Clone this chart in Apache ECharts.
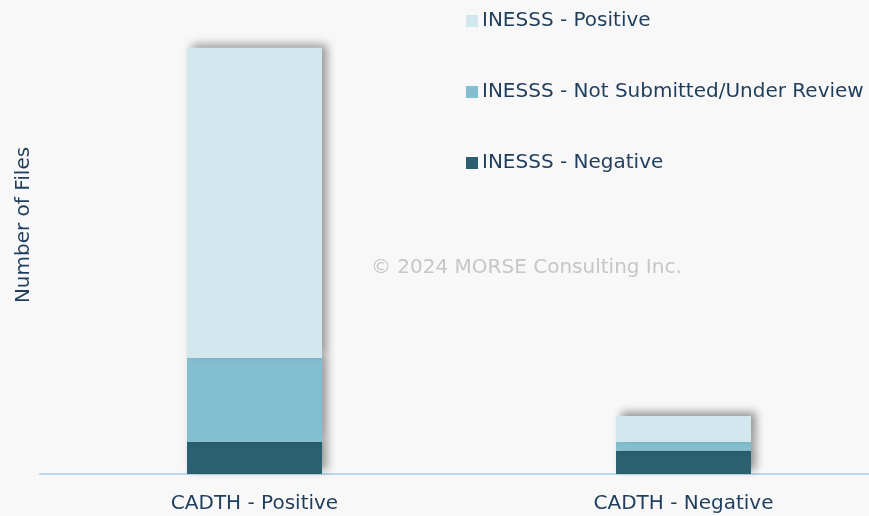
<!DOCTYPE html>
<html>
<head>
<meta charset="utf-8">
<script src="https://cdn.jsdelivr.net/npm/echarts@6/dist/echarts.min.js"></script>
<style>
  html, body { margin: 0; padding: 0; background: #f8f8f8; overflow: hidden; }
  /* plot runs past the right edge of the window, like the original slide */
  #chart { width: 900px; height: 516px; }
</style>
</head>
<body>
<div id="chart"></div>
<script>
// data
var categories = ["CADTH - Positive", "CADTH - Negative"];
var inesssNegative = [11, 8];
var inesssNotSubmitted = [29, 3];
var inesssPositive = [107, 9];
var legendOrder = ["INESSS - Positive", "INESSS - Not Submitted/Under Review", "INESSS - Negative"];

var textColor = "#1f3d5c";
var font = "DejaVu Sans";

var myChart = echarts.init(document.getElementById("chart"));

function bar(name, data, color) {
  return {
    name: name,
    type: "bar",
    stack: "total",
    barWidth: 135,
    data: data,
    itemStyle: {
      color: color,
      shadowColor: "rgba(0,0,0,0.4)",
      shadowBlur: 9,
      shadowOffsetX: 5,
      shadowOffsetY: -4
    }
  };
}

myChart.setOption({
  backgroundColor: "#f8f8f8",
  animation: false,
  textStyle: { fontFamily: font },
  legend: {
    orient: "vertical",
    left: 461,
    top: 6,
    itemGap: 51,
    itemWidth: 12,
    itemHeight: 12,
    icon: "rect",
    data: legendOrder,
    textStyle: { color: textColor, fontSize: 20, fontFamily: font, padding: [0, 0, 0, -1] }
  },
  graphic: [{
    type: "text",
    left: 371,
    top: 258,
    style: {
      text: "© 2024 MORSE Consulting Inc.",
      fill: "#c6c6c6",
      font: "20px " + font
    }
  }, {
    type: "text",
    x: 24,
    y: 225,
    rotation: Math.PI / 2,
    style: {
      text: "Number of Files",
      fill: textColor,
      font: "20px " + font,
      align: "center",
      verticalAlign: "middle"
    }
  }],
  grid: { left: 40, top: 10, width: 858, height: 464 },
  xAxis: {
    type: "category",
    data: categories,
    axisLine: { lineStyle: { color: "#bcd8ea", width: 2 } },
    axisTick: { show: false },
    axisLabel: { color: textColor, fontSize: 20, margin: 20, fontFamily: font }
  },
  yAxis: {
    type: "value",
    min: 0,
    max: 160,
    axisLabel: { show: false },
    axisLine: { show: false },
    axisTick: { show: false },
    splitLine: { show: false }
  },
  series: [
    bar("INESSS - Negative", inesssNegative, "#2a606f"),
    bar("INESSS - Not Submitted/Under Review", inesssNotSubmitted, "#84bfd1"),
    bar("INESSS - Positive", inesssPositive, "#d3e7ee")
  ]
});
</script>
</body>
</html>
